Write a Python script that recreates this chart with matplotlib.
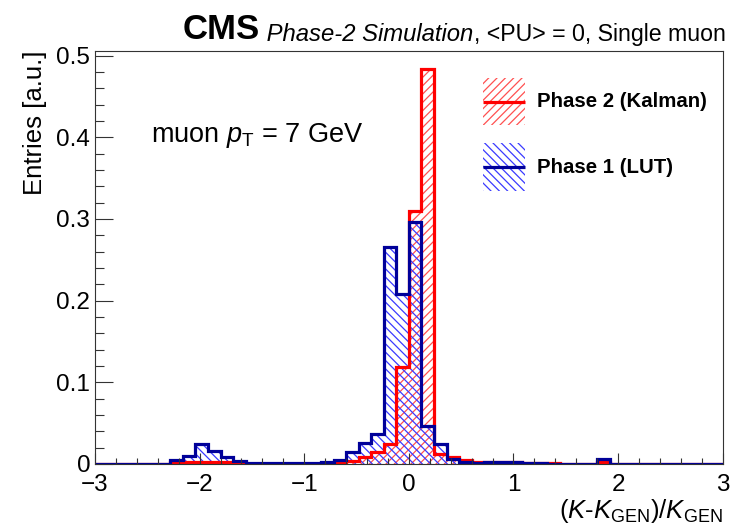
import numpy as np
import matplotlib
matplotlib.use('Agg')
import matplotlib.pyplot as plt
from matplotlib.patches import Rectangle
from matplotlib.ticker import MultipleLocator

plt.rcParams['font.family'] = ['Liberation Sans', 'DejaVu Sans']
plt.rcParams['mathtext.fontset'] = 'custom'
plt.rcParams['mathtext.rm'] = 'Liberation Sans'
plt.rcParams['mathtext.it'] = 'Liberation Sans:italic'
plt.rcParams['mathtext.bf'] = 'Liberation Sans:bold'
plt.rcParams['hatch.linewidth'] = 0.9

# --- data: 50 bins of (K-K_GEN)/K_GEN from -3 to 3, width 0.12 ---
x_lo, x_hi, n_bins = -3.0, 3.0, 50
bin_edges = np.linspace(x_lo, x_hi, n_bins + 1)

phase2_kalman = [
    0.0002, 0.0002, 0.0002, 0.0002, 0.0002, 0.0002,   # -3.00 .. -2.28
    0.002, 0.002, 0.002, 0.002, 0.002, 0.001,         # -2.28 .. -1.56
    0.0005, 0.0005, 0.0005, 0.0005, 0.0005, 0.0005,   # -1.56 .. -0.84
    0.001, 0.002, 0.004, 0.008, 0.015, 0.0245,        # -0.84 .. -0.12
    0.119, 0.310, 0.484,                              # -0.12 .. 0.24
    0.012, 0.008, 0.005, 0.003, 0.003, 0.002, 0.002,  # 0.24 .. 1.08
    0.001, 0.001, 0.001, 0.0005, 0.0005, 0.0005,      # 1.08 .. 1.80
    0.002,                                            # 1.80 .. 1.92
    0.0003, 0.0003, 0.0003, 0.0003, 0.0003, 0.0003, 0.0003, 0.0003, 0.0003,
]
phase1_lut = [
    0.0004, 0.0004, 0.0004, 0.0004, 0.0004, 0.0004,
    0.005, 0.010, 0.025, 0.016, 0.008, 0.004,
    0.001, 0.001, 0.0008, 0.0008, 0.001, 0.001,
    0.002, 0.005, 0.015, 0.026, 0.037, 0.266,
    0.208, 0.296, 0.047,
    0.025, 0.006, 0.002, 0.001, 0.002, 0.003, 0.002,
    0.001, 0.001, 0.0005, 0.0005, 0.0005, 0.0005,
    0.006,
    0.0003, 0.0003, 0.0003, 0.0003, 0.0003, 0.0003, 0.0003, 0.0003, 0.0003,
]
labels = ['Phase 2 (Kalman)', 'Phase 1 (LUT)']

red_line, red_hatch = '#ff0000', '#ff5050'
blue_line, blue_hatch = '#000099', '#3a3aff'
red_pat, blue_pat = '////', '\\\\\\\\'
lw = 2.3

fig = plt.figure(figsize=(7.32, 5.26), dpi=100)
ax = fig.add_axes([0.1298, 0.1179, 0.8575, 0.7857])

# hatched fills first, outlines on top (blue over red)
ax.stairs(phase2_kalman, bin_edges, fill=True, hatch=red_pat, facecolor='none',
          edgecolor=red_hatch, linewidth=0)
ax.stairs(phase1_lut, bin_edges, fill=True, hatch=blue_pat, facecolor='none',
          edgecolor=blue_hatch, linewidth=0)
ax.stairs(phase2_kalman, bin_edges, color=red_line, linewidth=lw)
ax.stairs(phase1_lut, bin_edges, color=blue_line, linewidth=lw)

ax.set_xlim(x_lo, x_hi)
ax.set_ylim(0, 0.506)
ax.xaxis.set_major_locator(MultipleLocator(1))
ax.xaxis.set_minor_locator(MultipleLocator(0.2))
ax.yaxis.set_major_locator(MultipleLocator(0.1))
ax.yaxis.set_minor_locator(MultipleLocator(0.02))
ax.yaxis.set_major_formatter(lambda v, p: '0' if abs(v) < 1e-9 else f'{v:.1f}')
ax.xaxis.set_major_formatter(lambda v, p: f'{v:.0f}'.replace('-', '\u2212'))
ax.tick_params(axis='both', which='both', direction='in', width=0.8, color='#333333')
ax.tick_params(axis='y', which='major', length=13, pad=3.5, labelsize=17.5)
ax.tick_params(axis='y', which='minor', length=6.5)
ax.tick_params(axis='x', which='major', length=8, pad=7.5, labelsize=17.5)
ax.tick_params(axis='x', which='minor', length=4)
for s in ax.spines.values():
    s.set_linewidth(0.8)
    s.set_color('#333333')

ax.set_ylabel('Entries [a.u.]', fontsize=18.5, loc='top')
ax.yaxis.set_label_coords(-0.0765, 1.0)
ax.set_xlabel(r'$(K$-$K_{\mathrm{GEN}})/K_{\mathrm{GEN}}$', fontsize=18.5, loc='right')
ax.xaxis.set_label_coords(1.0, -0.080)

ax.text(0.0897, 0.780, r'muon $p_{\mathrm{T}}$ = 7 GeV', fontsize=19.5,
        transform=ax.transAxes, ha='left', va='baseline')

# legend, drawn by hand in axes fractions: hatched box + line + label
leg_x0, leg_x1, leg_tx = 0.6177, 0.6850, 0.7037
leg_rows = [(0.8766, red_line, red_hatch, red_pat),
            (0.7186, blue_line, blue_hatch, blue_pat)]
for (yc, lc, hc, pat), lab in zip(leg_rows, labels):
    ax.add_patch(Rectangle((leg_x0, yc - 0.057), leg_x1 - leg_x0, 0.114,
                           transform=ax.transAxes, facecolor='none', edgecolor=hc,
                           hatch=pat, linewidth=0))
    ax.plot([leg_x0, leg_x1], [yc, yc], color=lc, linewidth=lw,
            transform=ax.transAxes, solid_capstyle='butt')
    ax.text(leg_tx, yc, lab, transform=ax.transAxes, fontsize=14.7,
            fontweight='bold', ha='left', va='center')

# CMS header
t1 = fig.text(183 / 732, 1 - 39 / 526, 'CMS', fontsize=25, fontweight='bold',
              ha='left', va='baseline')
t2 = ax.annotate(' Phase-2 Simulation', xy=(1, 0), xycoords=t1, fontsize=17.2,
                 style='italic', ha='left', va='bottom')
ax.annotate(', <PU> = 0, Single muon', xy=(1, 0), xycoords=t2, fontsize=16.7,
            ha='left', va='bottom')

fig.savefig('out.png', dpi=100)
